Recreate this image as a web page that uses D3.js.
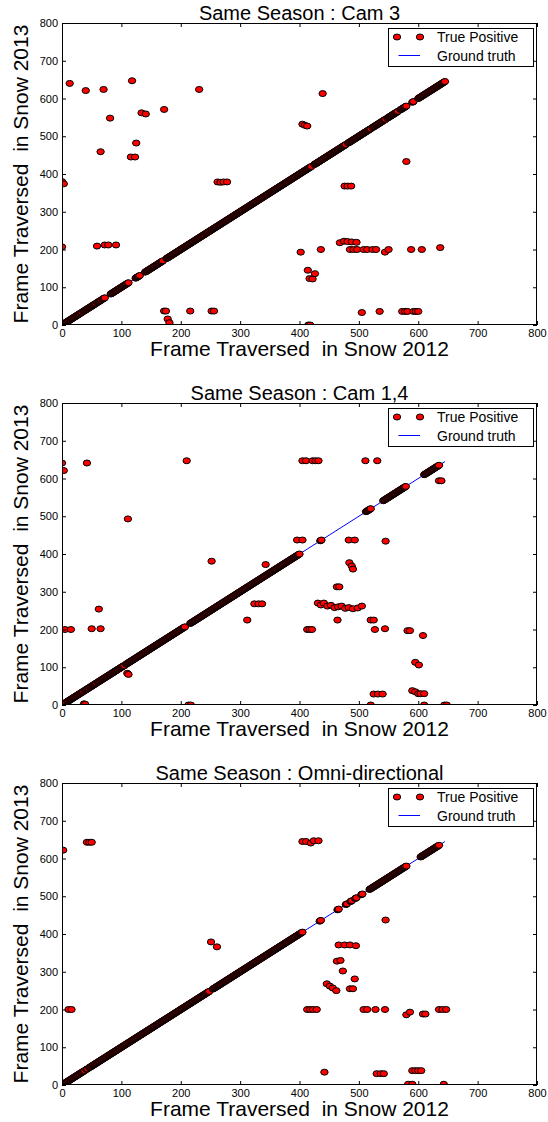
<!DOCTYPE html>
<html>
<head>
<meta charset="utf-8">
<script src="https://cdn.jsdelivr.net/npm/d3@7"></script>
<style>
body { margin: 0; background: #fff; }
text { font-family: "Liberation Sans", Arial, sans-serif; }
</style>
</head>
<body>
<div id="chart"></div>
<script>
// axis ticks and labels
var tickValues = [0, 100, 200, 300, 400, 500, 600, 700, 800];
var titles = ["Same Season : Cam 3", "Same Season : Cam 1,4", "Same Season : Omni-directional"];
var xLabel = "Frame Traversed  in Snow 2012";
var yLabel = "Frame Traversed  in Snow 2013";
var legendLabels = ["True Positive", "Ground truth"];
var groundTruth = [0, 645];

// runs of frames matched to themselves (frame i -> frame i)
var cam3Runs = [[0,34],[36,57],[59,66],[68,72],[82,112],[124,131],[140,170],[176,420],[425,478],[482,520],[523,545],[548,566],[570,580],[590,592],[600,645]];
var cam14Runs = [[0,7],[9,36],[38,45],[47,58],[60,104],[108,207],[216,400],[435,437],[512,520],[541,579],[610,635]];
var omniRuns = [[0,38],[41,43],[46,248],[254,405],[434,436],[464,466],[478,480],[486,488],[494,496],[504,506],[518,580],[604,635]];

// other matches [frame 2012, frame 2013]
var cam3Points = [[0,380],[3,374],[0,207],[13,640],[40,621],[70,624],[81,548],[118,647],[134,562],[141,559],[172,571],[231,624],
  [65,459],[125,482],[116,445],[123,445],[59,209],[72,212],[78,212],[91,212],[262,379],[267,378],[272,379],[278,379],
  [405,532],[409,529],[413,527],[439,613],[580,433],[476,368],[481,368],[487,368],[468,218],[475,222],[481,221],[488,220],[496,219],
  [402,193],[414,145],[426,136],[417,123],[422,122],[436,200],[485,200],[491,200],[497,200],[508,200],[514,200],[523,200],[529,200],
  [544,193],[550,200],[588,200],[606,200],[637,205],[172,37],[175,37],[178,16],[181,6],[216,37],[252,37],[256,37],[415,0],[418,0],
  [505,33],[535,36],[573,36],[578,36],[582,36],[592,36],[596,36],[600,36]];
var cam14Points = [[0,641],[3,621],[42,641],[210,647],[405,647],[411,647],[422,647],[427,647],[432,647],[511,647],[531,647],[635,594],[639,594],
  [111,493],[252,381],[343,372],[324,268],[331,268],[337,268],[312,225],[62,254],[5,200],[15,200],[50,202],[65,202],[105,104],[110,84],[112,81],
  [37,3],[39,2],[213,0],[217,0],[396,437],[405,437],[483,437],[493,437],[545,434],[463,313],[467,313],[484,377],[488,368],[490,360],
  [431,270],[436,265],[441,270],[447,262],[453,264],[459,258],[465,260],[471,262],[477,256],[483,258],[490,255],[498,257],[505,262],
  [464,225],[520,225],[525,225],[413,200],[417,200],[421,200],[527,200],[544,202],[582,197],[586,197],[608,184],[595,113],[601,106],
  [590,38],[595,35],[600,30],[604,30],[610,30],[525,29],[532,29],[540,29],[520,0],[610,0],[644,0],[648,0]];
var omniPoints = [[2,622],[42,643],[46,643],[50,643],[405,645],[411,645],[419,641],[424,647],[432,647],[11,200],[16,200],
  [413,200],[418,200],[423,200],[429,200],[508,200],[514,200],[528,200],[544,200],[580,186],[586,193],[608,188],[612,188],
  [635,200],[641,200],[647,200],[442,34],[530,30],[537,30],[542,30],[590,38],[595,38],[600,38],[605,38],[583,2],[590,2],[643,2],
  [446,268],[451,262],[456,257],[462,250],[485,255],[490,255],[251,379],[261,366],[545,437],[463,328],[469,330],[473,302],[493,281],
  [466,371],[476,371],[485,371],[495,369]];

var width = 548, height = 1122;
var left = 62, right = 537, plotH = 302;

var svg = d3.select("#chart").append("svg")
    .attr("width", width)
    .attr("height", height);

drawPanel(23, titles[0], cam3Runs, cam3Points, 0);
drawPanel(403, titles[1], cam14Runs, cam14Points, 1);
drawPanel(783, titles[2], omniRuns, omniPoints, 2);

function drawPanel(top, title, runs, points, idx) {

var xScale = d3.scaleLinear().domain([0, 800]).range([left, right]);
var yScale = d3.scaleLinear().domain([0, 800]).range([top + plotH, top]);

var g = svg.append("g");

g.append("clipPath").attr("id", "clip" + idx)
  .append("rect")
  .attr("x", left).attr("y", top)
  .attr("width", right - left).attr("height", plotH);

var plot = g.append("g").attr("clip-path", "url(#clip" + idx + ")");

var line = d3.line()
  .x(function(d){ return xScale(d) })
  .y(function(d){ return yScale(d) });

plot.append("path")
  .attr("d", line(groundTruth))
  .attr("stroke", "blue")
  .attr("stroke-width", 1)
  .attr("fill", "none");

var diag = [];
runs.forEach(function(r){
  d3.range(r[0], r[1] + 1).forEach(function(v){ diag.push([v, v]) });
});
var all = diag.concat(points).sort(function(a, b){ return a[0] - b[0] });

plot.selectAll("ellipse")
  .data(all)
  .enter().append("ellipse")
  .attr("cx", function(d){ return xScale(d[0]) })
  .attr("cy", function(d){ return yScale(d[1]) })
  .attr("rx", 3.7).attr("ry", 3.0)
  .attr("fill", "red")
  .attr("stroke", "black")
  .attr("stroke-width", 1);

// axes, ticks inward on all four sides
var xAxis = d3.axisBottom(xScale).tickValues(tickValues).tickSizeInner(-4).tickSizeOuter(0).tickPadding(4);
var yAxis = d3.axisLeft(yScale).tickValues(tickValues).tickSizeInner(-4).tickSizeOuter(0).tickPadding(4);

g.append("g").attr("transform", "translate(0," + (top + plotH) + ")").call(xAxis);
g.append("g").attr("transform", "translate(" + left + ",0)").call(yAxis);
g.append("g").attr("transform", "translate(0," + top + ")")
  .call(d3.axisTop(xScale).tickValues(tickValues).tickSizeInner(-4).tickSizeOuter(0).tickFormat(""));
g.append("g").attr("transform", "translate(" + right + ",0)")
  .call(d3.axisRight(yScale).tickValues(tickValues).tickSizeInner(-4).tickSizeOuter(0).tickFormat(""));

g.selectAll(".domain").remove();
g.selectAll(".tick text").attr("font-size", 11).attr("font-family", "Liberation Sans, Arial, sans-serif").attr("fill", "#000");

g.append("rect")
  .attr("x", left + 0.5).attr("y", top + 0.5)
  .attr("width", right - left - 1).attr("height", plotH - 1)
  .attr("fill", "none").attr("stroke", "black").attr("stroke-width", 1);

g.append("text")
  .attr("x", (left + right) / 2).attr("y", top - 3)
  .attr("text-anchor", "middle")
  .attr("font-size", 20)
  .text(title);

g.append("text")
  .attr("x", (left + right) / 2).attr("y", top + plotH + 31)
  .attr("text-anchor", "middle")
  .attr("font-size", 21)
  .style("white-space", "pre")
  .text(xLabel);

g.append("text")
  .attr("transform", "translate(28," + (top + plotH / 2) + ") rotate(-90)")
  .attr("text-anchor", "middle")
  .attr("font-size", 21)
  .style("white-space", "pre")
  .text(yLabel);

// legend
var lg = g.append("g").attr("transform", "translate(388.5," + (top + 5.5) + ")");
lg.append("rect").attr("width", 145).attr("height", 38)
  .attr("fill", "white").attr("stroke", "black").attr("stroke-width", 1);
[8.5, 31.5].forEach(function(cx){
  lg.append("ellipse").attr("cx", cx).attr("cy", 8.5)
    .attr("rx", 3.7).attr("ry", 3.0)
    .attr("fill", "red").attr("stroke", "black");
});
lg.append("line").attr("x1", 10).attr("x2", 31.5).attr("y1", 27).attr("y2", 27)
  .attr("stroke", "blue").attr("stroke-width", 1);
lg.append("text").attr("x", 48.5).attr("y", 13.5).attr("font-size", 14).text(legendLabels[0]);
lg.append("text").attr("x", 48.5).attr("y", 32).attr("font-size", 14).text(legendLabels[1]);

}
</script>
</body>
</html>
